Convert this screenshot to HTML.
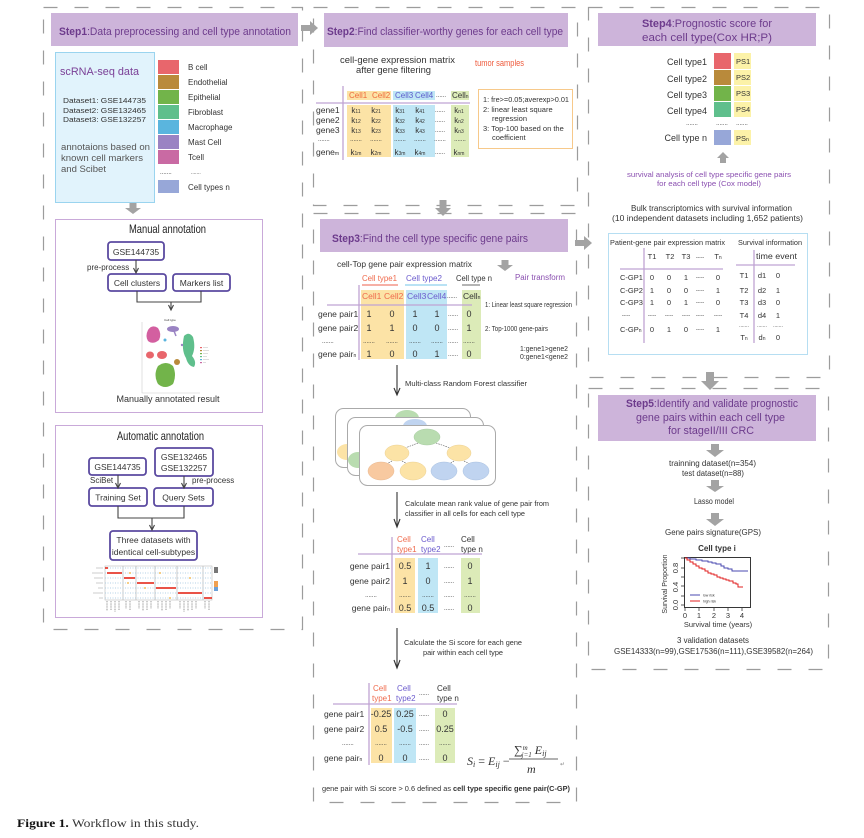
<!DOCTYPE html>
<html><head><meta charset="utf-8"><style>
html,body{margin:0;padding:0;background:#fff;}
svg{display:block;}
text{font-family:"Liberation Sans",Arial,sans-serif;fill:#333;}
</style></head><body>
<svg width="864" height="838" viewBox="0 0 864 838" xmlns="http://www.w3.org/2000/svg">
<g fill="none" stroke="#9c9c9c" stroke-width="1.2" stroke-dasharray="14 17">
<rect x="43.5" y="7.5" width="259" height="622"/>
<rect x="313.5" y="7.5" width="264" height="198"/>
<rect x="313.5" y="213.5" width="263" height="589"/>
<rect x="588.5" y="7.5" width="241" height="370"/>
<rect x="588.5" y="388.5" width="240" height="281"/>
</g>
<g fill="#cdb4da">
<rect x="51" y="13" width="247" height="33"/>
<rect x="324" y="13" width="244" height="34"/>
<rect x="320" y="219" width="248" height="33"/>
<rect x="598" y="13" width="218" height="33"/>
<rect x="598" y="395" width="218" height="46"/>
</g>
<g font-size="11" style="fill:#6d3b8c">
<text x="59" y="35" textLength="232" lengthAdjust="spacingAndGlyphs" style="fill:#6d3b8c"><tspan font-weight="bold" style="fill:#6d3b8c">Step1</tspan>:Data preprocessing and cell type annotation</text>
<text x="327" y="35" textLength="236" lengthAdjust="spacingAndGlyphs" style="fill:#6d3b8c"><tspan font-weight="bold" style="fill:#6d3b8c">Step2</tspan>:Find classifier-worthy genes for each cell type</text>
<text x="332" y="242" textLength="196" lengthAdjust="spacingAndGlyphs" style="fill:#6d3b8c"><tspan font-weight="bold" style="fill:#6d3b8c">Step3</tspan>:Find the cell type specific gene pairs</text>
<text x="642" y="27" textLength="130" lengthAdjust="spacingAndGlyphs" style="fill:#6d3b8c"><tspan font-weight="bold" style="fill:#6d3b8c">Step4</tspan>:Prognostic score for</text>
<text x="642" y="41" textLength="130" lengthAdjust="spacingAndGlyphs" style="fill:#6d3b8c">each cell type(Cox HR;P)</text>
<text x="626" y="407" textLength="172" lengthAdjust="spacingAndGlyphs" style="fill:#6d3b8c"><tspan font-weight="bold" style="fill:#6d3b8c">Step5</tspan>:Identify and validate prognostic</text>
<text x="636" y="421" textLength="149" lengthAdjust="spacingAndGlyphs" style="fill:#6d3b8c">gene pairs within each cell type</text>
<text x="668" y="434" textLength="86" lengthAdjust="spacingAndGlyphs" style="fill:#6d3b8c">for stageII/III CRC</text>
</g>
<g fill="#a3a3a3">
<polygon points="129.5,202 136.5,202 136.5,208 141,208 133,214 125,208 129.5,208"/>
<polygon points="301,25 310,25 310,21 318,28 310,35 310,31 301,31"/>
<polygon points="439.5,200 446.5,200 446.5,208 451,208 443,216 435,208 439.5,208"/>
<polygon points="575,240 584,240 584,236 592,243 584,250 584,246 575,246"/>
<polygon points="706,372 714,372 714,381 719,381 710,390 701,381 706,381"/>
<polygon points="711,444 719,444 719,450 724,450 715,457 706,450 711,450"/>
<polygon points="711,480 719,480 719,486 724,486 715,492 706,486 711,486"/>
<polygon points="711,513 719,513 719,519 724,519 715,526 706,519 711,519"/>
<polygon points="723,152 729,158 726,158 726,163 720,163 720,158 717,158"/>
<polygon points="501.5,260 508.5,260 508.5,265 513,265 505,271 497,265 501.5,265"/>
</g>
<rect x="55.5" y="52.5" width="99" height="150" fill="#e1f3fc" stroke="#9ad4ef"/>
<text x="60" y="75" font-size="11" textLength="79" lengthAdjust="spacingAndGlyphs" style="fill:#7a3f96">scRNA-seq  data</text>
<g font-size="7.5">
<text x="63" y="103" textLength="83" lengthAdjust="spacingAndGlyphs">Dataset1: GSE144735</text>
<text x="63" y="113" textLength="83" lengthAdjust="spacingAndGlyphs">Dataset2: GSE132465</text>
<text x="63" y="122" textLength="83" lengthAdjust="spacingAndGlyphs">Dataset3: GSE132257</text>
</g>
<g font-size="9" style="fill:#555">
<text x="61" y="150" textLength="89" lengthAdjust="spacingAndGlyphs" style="fill:#555">annotaions based on</text>
<text x="61" y="161" textLength="82" lengthAdjust="spacingAndGlyphs" style="fill:#555">known cell markers</text>
<text x="61" y="172" textLength="45" lengthAdjust="spacingAndGlyphs" style="fill:#555">and Scibet</text>
</g>
<rect x="158" y="60" width="21" height="14" fill="#e8666c"/>
<rect x="158" y="75" width="21" height="14" fill="#b98a3b"/>
<rect x="158" y="90" width="21" height="14" fill="#72b44a"/>
<rect x="158" y="105" width="21" height="14" fill="#5fbf8c"/>
<rect x="158" y="120" width="21" height="14" fill="#5ab5de"/>
<rect x="158" y="135" width="21" height="14" fill="#9a83c3"/>
<rect x="158" y="150" width="21" height="14" fill="#c96aa3"/>
<rect x="158" y="180" width="21" height="13" fill="#97a7d8"/>
<g font-size="8">
<text x="188" y="70">B cell</text>
<text x="188" y="85">Endothelial</text>
<text x="188" y="100">Epithelial</text>
<text x="188" y="115">Fibroblast</text>
<text x="188" y="130">Macrophage</text>
<text x="188" y="145">Mast Cell</text>
<text x="188" y="160">Tcell</text>
<text x="160" y="174" font-size="6">.......</text>
<text x="191" y="174" font-size="5">.......</text>
<text x="188" y="190">Cell types n</text>
</g>
<rect x="55.5" y="219.5" width="207" height="193" fill="#fff" stroke="#c9a9d9"/>
<rect x="55.5" y="425.5" width="207" height="192" fill="#fff" stroke="#c9a9d9"/>
<text x="167.5" y="233" font-size="12" text-anchor="middle" textLength="77" lengthAdjust="spacingAndGlyphs" style="fill:#222">Manual annotation</text>
<text x="160.5" y="440" font-size="12" text-anchor="middle" textLength="87" lengthAdjust="spacingAndGlyphs" style="fill:#222">Automatic annotation</text>
<g fill="#fff" stroke="#5b4aa0" stroke-width="1.8">
<rect x="108" y="242" width="56" height="18" rx="3"/>
<rect x="108" y="274" width="58" height="17" rx="3"/>
<rect x="173" y="274" width="57" height="17" rx="3"/>
<rect x="89" y="458" width="57" height="17" rx="3"/>
<rect x="155" y="448" width="58" height="28" rx="3"/>
<rect x="89" y="488" width="58" height="18" rx="3"/>
<rect x="154" y="488" width="59" height="18" rx="3"/>
<rect x="110" y="531" width="87" height="29" rx="3"/>
</g>
<g font-size="8.5" text-anchor="middle">
<text x="136" y="255">GSE144735</text>
<text x="137" y="286">Cell clusters</text>
<text x="201.5" y="286">Markers list</text>
<text x="117.5" y="470">GSE144735</text>
<text x="184" y="460">GSE132465</text>
<text x="184" y="471">GSE132257</text>
<text x="118" y="500.5">Training Set</text>
<text x="183.5" y="500.5">Query Sets</text>
<text x="153.5" y="543">Three datasets with</text>
<text x="153.5" y="555">identical cell-subtypes</text>
</g>
<g font-size="8">
<text x="87" y="270">pre-process</text>
<text x="90" y="483">SciBet</text>
<text x="192" y="483">pre-process</text>
</g>
<g fill="none" stroke="#444" stroke-width="1.1">
<path d="M136 260V272"/><path d="M133.5 268L136 273L138.5 268"/>
<path d="M137 291V302H201V291"/><path d="M171 302V309"/><path d="M168.5 305L171 310L173.5 305"/>
<path d="M118 475V487"/><path d="M115.5 483L118 488L120.5 483"/>
<path d="M184 476V487"/><path d="M181.5 483L184 488L186.5 483"/>
<path d="M118 506V518H184V506"/><path d="M152 518V529"/><path d="M149.5 525L152 530L154.5 525"/>
</g>
<!-- UMAP -->
<g>
<path d="M142 322V393H200" fill="none" stroke="#ccc" stroke-width="0.6"/>
<text x="170" y="321" font-size="3" text-anchor="middle">Cell type</text>
<path d="M148 330Q152 324 158 328Q162 334 159 340Q153 345 148 341Q145 336 148 330Z" fill="#d35fa0"/>
<ellipse cx="173" cy="329" rx="6" ry="3" fill="#9a83c3"/>
<path d="M174 331L176 336" stroke="#9a83c3" stroke-width="1.5"/>
<path d="M184 336Q189 331 193 337Q196 348 192 356Q197 362 194 367Q188 366 186 358Q181 350 184 336Z" fill="#5fbf8c"/>
<ellipse cx="150" cy="355" rx="4" ry="3.5" fill="#e8666c"/>
<ellipse cx="162" cy="355" rx="5" ry="4" fill="#e8666c"/>
<ellipse cx="177" cy="362" rx="3" ry="3" fill="#b98a3b"/>
<circle cx="165" cy="340" r="1.5" fill="#5ab5de"/>
<circle cx="182" cy="345" r="1.2" fill="#9a83c3"/>
<path d="M158 366Q166 360 173 366Q177 375 173 384Q165 390 158 384Q153 375 158 366Z" fill="#72b44a"/>
<rect x="200" y="347" width="2" height="1.2" fill="#e8666c"/><rect x="200" y="350" width="2" height="1.2" fill="#b98a3b"/>
<rect x="200" y="353" width="2" height="1.2" fill="#72b44a"/><rect x="200" y="356" width="2" height="1.2" fill="#5fbf8c"/>
<rect x="200" y="359" width="2" height="1.2" fill="#5ab5de"/><rect x="200" y="362" width="2" height="1.2" fill="#c96aa3"/>
<path d="M203 347.5H208M203 350.5H209M203 353.5H208M203 356.5H207M203 359.5H209M203 362.5H206" stroke="#bbb" stroke-width="0.6"/>
</g>
<text x="168" y="402" font-size="9" text-anchor="middle">Manually annotated result</text>
<!-- dot plot -->
<g>
<rect x="105" y="566" width="107" height="34" fill="none" stroke="#bbb" stroke-width="0.6"/>
<g stroke="#aaa" stroke-width="0.6"><path d="M123 566V600M136 566V600M155 566V600M177 566V600M203 566V600"/></g>
<g stroke="#9cc3e0" stroke-width="0.8" stroke-dasharray="1 1.5">
<path d="M105 568H212M105 573H212M105 578H212M105 583H212M105 588H212M105 593H212M105 598H212"/>
</g>
<g stroke="#e63b2e" stroke-width="1.8">
<path d="M105 568H108M107 573H122M124 578H135M137 583H154M156 588H176M178 593H202M204 598H212"/>
</g>
<g fill="#f5c060"><circle cx="130" cy="573" r="1"/><circle cx="160" cy="573" r="1"/><circle cx="145" cy="588" r="1"/><circle cx="190" cy="578" r="1"/><circle cx="128" cy="583" r="1"/><circle cx="170" cy="598" r="1"/></g>
<g stroke="#999" stroke-width="0.6"><path d="M96 568H103M92 573H103M94 578H103M96 583H103M98 588H103M93 593H103M99 598H103"/></g>
<g stroke="#999" stroke-width="1" stroke-dasharray="1 0.6"><path d="M107 601V611M111 601V610M115 601V612M119 601V610M126 601V609M130 601V610M139 601V609M143 601V611M147 601V610M151 601V609M158 601V609M162 601V611M166 601V610M170 601V609M180 601V609M184 601V612M188 601V611M192 601V610M196 601V609M205 601V609M209 601V610"/></g>
<rect x="214" y="567" width="4" height="6" fill="#777"/><rect x="214" y="581" width="4" height="10" fill="#f0a050"/><rect x="214" y="587" width="4" height="4" fill="#6aa0d8"/>
</g>

<!-- Step2 content -->
<text x="340" y="63" font-size="9" textLength="115" lengthAdjust="spacingAndGlyphs">cell-gene expression matrix</text>
<text x="356" y="73" font-size="9" textLength="75" lengthAdjust="spacingAndGlyphs">after gene filtering</text>
<text x="475" y="66" font-size="9" textLength="49" lengthAdjust="spacingAndGlyphs" style="fill:#ee5a3c">tumor samples</text>
<rect x="347" y="91" width="44" height="9" fill="#fce3a6"/>
<rect x="393" y="91" width="42" height="9" fill="#bfe6f5"/>
<rect x="451" y="91" width="18" height="9" fill="#dcebb8"/>
<rect x="347" y="105" width="44" height="52" fill="#fce3a6"/>
<rect x="393" y="105" width="42" height="52" fill="#bfe6f5"/>
<rect x="451" y="105" width="18" height="52" fill="#dcebb8"/>
<path d="M343 86V160M316 103H470" stroke="#bfa3d3" stroke-width="1.3" fill="none"/>
<g font-size="8">
<text x="349" y="98" style="fill:#ee6a3c">Cell1</text><text x="372" y="98" style="fill:#ee6a3c">Cell2</text>
<text x="395" y="98" style="fill:#5a5acb">Cell3</text><text x="415" y="98" style="fill:#5a5acb">Cell4</text>
<text x="436" y="97" font-size="6">......</text>
<text x="452" y="98">Cell<tspan font-size="5">n</tspan></text>
</g>
<g font-size="8.5">
<text x="316" y="113">gene1</text><text x="316" y="123">gene2</text><text x="316" y="133">gene3</text>
<text x="318" y="141" font-size="6">.......</text><text x="316" y="155">gene<tspan font-size="5">m</tspan></text>
</g>
<g font-size="8" text-anchor="middle">
<text x="356" y="113">k<tspan font-size="5">11</tspan></text><text x="376" y="113">k<tspan font-size="5">21</tspan></text><text x="400" y="113">k<tspan font-size="5">31</tspan></text><text x="420" y="113">k<tspan font-size="5">41</tspan></text><text x="459" y="113">k<tspan font-size="5">n1</tspan></text>
<text x="356" y="123">k<tspan font-size="5">12</tspan></text><text x="376" y="123">k<tspan font-size="5">22</tspan></text><text x="400" y="123">k<tspan font-size="5">32</tspan></text><text x="420" y="123">k<tspan font-size="5">42</tspan></text><text x="459" y="123">k<tspan font-size="5">n2</tspan></text>
<text x="356" y="133">k<tspan font-size="5">13</tspan></text><text x="376" y="133">k<tspan font-size="5">23</tspan></text><text x="400" y="133">k<tspan font-size="5">33</tspan></text><text x="420" y="133">k<tspan font-size="5">43</tspan></text><text x="459" y="133">k<tspan font-size="5">n3</tspan></text>
<text x="356" y="155">k<tspan font-size="5">1m</tspan></text><text x="376" y="155">k<tspan font-size="5">2m</tspan></text><text x="400" y="155">k<tspan font-size="5">3m</tspan></text><text x="420" y="155">k<tspan font-size="5">4m</tspan></text><text x="459" y="155">k<tspan font-size="5">nm</tspan></text>
</g>
<g font-size="6" text-anchor="middle">
<text x="356" y="141">.......</text><text x="376" y="141">.......</text><text x="400" y="141">.......</text><text x="420" y="141">.......</text><text x="440" y="141">.......</text><text x="460" y="141">.......</text>
<text x="440" y="112">......</text><text x="440" y="122">......</text><text x="440" y="132">......</text><text x="440" y="154">......</text>
</g>
<rect x="478.5" y="89.5" width="94" height="59" fill="#fff" stroke="#f7c98a"/>
<g font-size="7.5">
<text x="483" y="102" textLength="86" lengthAdjust="spacingAndGlyphs">1: fre&gt;=0.05;averexp&gt;0.01</text>
<text x="483" y="112">2: linear least square</text>
<text x="492" y="121">regression</text>
<text x="483" y="131">3: Top-100 based on the</text>
<text x="492" y="140">coefficient</text>
</g>

<!-- Step3 content -->
<text x="337" y="267" font-size="8.5" textLength="135" lengthAdjust="spacingAndGlyphs">cell-Top gene pair expression matrix</text>
<text x="515" y="280" font-size="8" textLength="50" lengthAdjust="spacingAndGlyphs" style="fill:#8a4fb0">Pair transform</text>
<text x="362" y="281" font-size="8.5" textLength="35" lengthAdjust="spacingAndGlyphs" style="fill:#ef6a4c">Cell type1</text>
<text x="406" y="281" font-size="8.5" textLength="36" lengthAdjust="spacingAndGlyphs" style="fill:#6a5acd">Cell type2</text>
<text x="456" y="281" font-size="8.5" textLength="36" lengthAdjust="spacingAndGlyphs">Cell type n</text>
<path d="M362 285H398" stroke="#f08070" stroke-width="1.2"/>
<path d="M405 285H447" stroke="#8fd0ee" stroke-width="1.2"/>
<path d="M462 285H480" stroke="#888" stroke-width="1.2"/>
<rect x="361" y="290" width="43" height="69" fill="#fce3a6"/>
<rect x="406" y="290" width="41" height="69" fill="#bfe6f5"/>
<rect x="462" y="290" width="19" height="69" fill="#dcebb8"/>
<path d="M359 285V360M327 305H472" stroke="#bfa3d3" stroke-width="1.3" fill="none"/>
<g font-size="8.5">
<text x="362" y="299" style="fill:#ef6a4c">Cell1</text><text x="384" y="299" style="fill:#ef6a4c">Cell2</text>
<text x="407" y="299" style="fill:#6a5acd">Cell3</text><text x="427" y="299" style="fill:#6a5acd">Cell4</text>
<text x="447" y="298" font-size="6">......</text>
<text x="463" y="299">Cell<tspan font-size="5">n</tspan></text>
<text x="318" y="317">gene pair1</text><text x="318" y="331">gene pair2</text>
<text x="322" y="343" font-size="6">.......</text><text x="318" y="357">gene pair<tspan font-size="5">n</tspan></text>
</g>
<g font-size="9" text-anchor="middle">
<text x="369" y="317">1</text><text x="392" y="317">0</text><text x="415" y="317">1</text><text x="437" y="317">1</text><text x="469" y="317">0</text>
<text x="369" y="331">1</text><text x="392" y="331">1</text><text x="415" y="331">0</text><text x="437" y="331">0</text><text x="469" y="331">1</text>
<text x="369" y="357">1</text><text x="392" y="357">0</text><text x="415" y="357">0</text><text x="437" y="357">1</text><text x="469" y="357">0</text>
</g>
<g font-size="6" text-anchor="middle">
<text x="453" y="316">......</text><text x="453" y="330">......</text><text x="453" y="356">......</text>
<text x="369" y="343">.......</text><text x="392" y="343">.......</text><text x="415" y="343">.......</text><text x="437" y="343">.......</text><text x="453" y="343">......</text><text x="469" y="343">.......</text>
</g>
<g font-size="7">
<text x="485" y="307" textLength="87" lengthAdjust="spacingAndGlyphs">1: Linear least square regression</text>
<text x="485" y="331" textLength="63" lengthAdjust="spacingAndGlyphs">2: Top-1000 gene-pairs</text>
<text x="520" y="351" textLength="48" lengthAdjust="spacingAndGlyphs">1:gene1&gt;gene2</text>
<text x="520" y="359" textLength="48" lengthAdjust="spacingAndGlyphs">0:gene1&lt;gene2</text>
</g>
<g fill="none" stroke="#333" stroke-width="1.1">
<path d="M397 365V394"/><path d="M394 388L397 395L400 388"/>
<path d="M397 492V526"/><path d="M394 519L397 527L400 519"/>
<path d="M397 628V667"/><path d="M394 660L397 668L400 660"/>
</g>
<text x="405" y="386" font-size="7.5" textLength="122" lengthAdjust="spacingAndGlyphs">Multi-class Random Forest classifier</text>
<!-- tree cards -->
<rect x="335.5" y="408.5" width="135" height="59" rx="8" fill="#fff" stroke="#aaa"/>
<ellipse cx="407" cy="418" rx="12" ry="8" fill="#b9dcb0"/>
<ellipse cx="347" cy="452" rx="10" ry="8" fill="#fce3a6"/>
<rect x="347.5" y="417.5" width="136" height="58" rx="8" fill="#fff" stroke="#aaa"/>
<ellipse cx="415" cy="426" rx="12" ry="7" fill="#c0d4f0"/>
<ellipse cx="358" cy="460" rx="10" ry="8" fill="#b9dcb0"/>
<rect x="359.5" y="425.5" width="136" height="60" rx="8" fill="#fff" stroke="#aaa"/>
<g stroke="#555" stroke-width="0.6" stroke-dasharray="1.5 1">
<path d="M418 443L400 450M436 443L456 450M392 461L383 466M402 461L411 466M454 461L446 466M464 461L474 466"/>
</g>
<ellipse cx="427" cy="437" rx="13" ry="8" fill="#b9dcb0" stroke="#a6cca0" stroke-width="0.5"/>
<ellipse cx="397" cy="453" rx="12" ry="8" fill="#fce3a6" stroke="#ecd090" stroke-width="0.5"/>
<ellipse cx="459" cy="453" rx="12" ry="8" fill="#fce3a6" stroke="#ecd090" stroke-width="0.5"/>
<ellipse cx="381" cy="471" rx="13" ry="9" fill="#f8c9a0" stroke="#e8b890" stroke-width="0.5"/>
<ellipse cx="413" cy="471" rx="13" ry="9" fill="#fce3a6" stroke="#ecd090" stroke-width="0.5"/>
<ellipse cx="444" cy="471" rx="13" ry="9" fill="#c0d4f0" stroke="#a8c0e0" stroke-width="0.5"/>
<ellipse cx="476" cy="471" rx="13" ry="9" fill="#c0d4f0" stroke="#a8c0e0" stroke-width="0.5"/>
<text x="405" y="506" font-size="7.5" textLength="144" lengthAdjust="spacingAndGlyphs">Calculate mean rank value of gene pair from</text>
<text x="405" y="516" font-size="7.5" textLength="120" lengthAdjust="spacingAndGlyphs">classifier in all cells for each cell type</text>
<!-- table2 -->
<g font-size="8">
<text x="397" y="542" style="fill:#ef6a4c">Cell</text><text x="397" y="552" style="fill:#ef6a4c">type1</text>
<text x="421" y="542" style="fill:#6a5acd">Cell</text><text x="421" y="552" style="fill:#6a5acd">type2</text>
<text x="444" y="547" font-size="6">......</text>
<text x="461" y="542">Cell</text><text x="461" y="552">type n</text>
</g>
<rect x="395" y="558" width="20" height="55" fill="#fce3a6"/>
<rect x="418" y="558" width="20" height="55" fill="#bfe6f5"/>
<rect x="461" y="558" width="19" height="55" fill="#dcebb8"/>
<path d="M392 537V613M358 554H482" stroke="#bfa3d3" stroke-width="1.3" fill="none"/>
<g font-size="8.5" text-anchor="end">
<text x="390" y="569">gene pair1</text><text x="390" y="584">gene pair2</text><text x="390" y="611">gene pair<tspan font-size="5">n</tspan></text>
</g>
<g font-size="9" text-anchor="middle">
<text x="405" y="569">0.5</text><text x="428" y="569">1</text><text x="470" y="569">0</text>
<text x="405" y="584">1</text><text x="428" y="584">0</text><text x="470" y="584">1</text>
<text x="405" y="611">0.5</text><text x="428" y="611">0.5</text><text x="470" y="611">0</text>
</g>
<g font-size="6" text-anchor="middle">
<text x="449" y="568">......</text><text x="449" y="583">......</text><text x="449" y="610">......</text>
<text x="371" y="597">.......</text><text x="405" y="597">.......</text><text x="428" y="597">.......</text><text x="449" y="597">......</text><text x="470" y="597">.......</text>
</g>
<text x="463" y="645" font-size="7.5" text-anchor="middle" textLength="118" lengthAdjust="spacingAndGlyphs">Calculate the Si score for each gene</text>
<text x="463" y="655" font-size="7.5" text-anchor="middle" textLength="80" lengthAdjust="spacingAndGlyphs">pair within each cell type</text>
<!-- table3 -->
<g font-size="8">
<text x="373" y="691" style="fill:#ef6a4c">Cell</text><text x="372" y="701" style="fill:#ef6a4c">type1</text>
<text x="397" y="691" style="fill:#6a5acd">Cell</text><text x="396" y="701" style="fill:#6a5acd">type2</text>
<text x="419" y="695" font-size="6">......</text>
<text x="437" y="691">Cell</text><text x="437" y="701">type n</text>
</g>
<rect x="371" y="708" width="21" height="55" fill="#fce3a6"/>
<rect x="394" y="708" width="22" height="55" fill="#bfe6f5"/>
<rect x="435" y="708" width="20" height="55" fill="#dcebb8"/>
<path d="M369 683V765M333 704H457" stroke="#bfa3d3" stroke-width="1.3" fill="none"/>
<g font-size="8.5">
<text x="324" y="717">gene pair1</text><text x="324" y="732">gene pair2</text>
<text x="342" y="745" font-size="6">.......</text><text x="324" y="761">gene pair<tspan font-size="5">n</tspan></text>
</g>
<g font-size="9" text-anchor="middle">
<text x="381" y="717">-0.25</text><text x="405" y="717">0.25</text><text x="445" y="717">0</text>
<text x="381" y="732">0.5</text><text x="405" y="732">-0.5</text><text x="445" y="732">0.25</text>
<text x="381" y="761">0</text><text x="405" y="761">0</text><text x="445" y="761">0</text>
</g>
<g font-size="6" text-anchor="middle">
<text x="424" y="716">......</text><text x="424" y="731">......</text><text x="424" y="760">......</text>
<text x="381" y="745">.......</text><text x="405" y="745">.......</text><text x="424" y="745">......</text><text x="445" y="745">.......</text>
</g>
<!-- formula -->
<g font-size="12">
<text x="467" y="765" style="font-family:'Liberation Serif',serif;font-style:italic">S<tspan font-size="8" dy="2">i</tspan><tspan dy="-2" font-style="normal"> = </tspan>E<tspan font-size="8" dy="2">ij</tspan><tspan dy="-2" font-style="normal"> − </tspan></text>
<text x="514" y="754" style="font-family:'Liberation Serif',serif;font-style:italic"><tspan font-style="normal">∑</tspan><tspan font-size="7" dy="-4">m</tspan><tspan font-size="7" dx="-6" dy="7">j=1</tspan><tspan dy="-3"> E</tspan><tspan font-size="8" dy="2">ij</tspan></text>
<text x="527" y="773" style="font-family:'Liberation Serif',serif;font-style:italic">m</text>
<text x="560" y="766" font-size="6" style="fill:#888">↵</text>
</g>
<path d="M509 759H558" stroke="#333" stroke-width="0.8"/>
<text x="322" y="791" font-size="7" textLength="248" lengthAdjust="spacingAndGlyphs">gene pair with Si score &gt; 0.6 defined as <tspan font-weight="bold">cell type specific gene pair(C-GP)</tspan></text>

<!-- Step4 content -->
<g font-size="9" text-anchor="end">
<text x="707" y="65">Cell type1</text><text x="707" y="82">Cell type2</text><text x="707" y="98">Cell type3</text><text x="707" y="114">Cell type4</text><text x="707" y="141">Cell type n</text>
</g>
<g font-size="6" text-anchor="middle"><text x="692" y="125">.......</text><text x="722" y="125">.......</text><text x="742" y="125">.......</text></g>
<rect x="714" y="53" width="17" height="16" fill="#e8666c"/>
<rect x="714" y="70" width="17" height="15" fill="#b98a3b"/>
<rect x="714" y="86" width="17" height="15" fill="#72b44a"/>
<rect x="714" y="102" width="17" height="15" fill="#5fbf8c"/>
<rect x="714" y="130" width="17" height="15" fill="#97a7d8"/>
<g fill="#fcf2a8"><rect x="734" y="53" width="17" height="16"/><rect x="734" y="70" width="17" height="15"/><rect x="734" y="86" width="17" height="15"/><rect x="734" y="102" width="17" height="15"/><rect x="734" y="130" width="17" height="15"/></g>
<g font-size="7.5"><text x="736" y="64">PS1</text><text x="736" y="80">PS2</text><text x="736" y="96">PS3</text><text x="736" y="112">PS4</text><text x="736" y="141">PS<tspan font-size="5">n</tspan></text></g>
<text x="627" y="177" font-size="7.5" textLength="164" lengthAdjust="spacingAndGlyphs" style="fill:#8a4fb0">survival analysis of cell type specific gene pairs</text>
<text x="657" y="186" font-size="7.5" textLength="104" lengthAdjust="spacingAndGlyphs" style="fill:#8a4fb0">for each cell type (Cox model)</text>
<text x="631" y="211" font-size="8" textLength="161" lengthAdjust="spacingAndGlyphs">Bulk transcriptomics with survival information</text>
<text x="612" y="221" font-size="8" textLength="191" lengthAdjust="spacingAndGlyphs">(10 independent datasets including 1,652 patients)</text>
<rect x="608.5" y="233.5" width="199" height="121" fill="#fff" stroke="#b6def2"/>
<text x="610" y="245" font-size="7.5" textLength="115" lengthAdjust="spacingAndGlyphs">Patient-gene pair expression matrix</text>
<text x="738" y="245" font-size="7.5" textLength="64" lengthAdjust="spacingAndGlyphs">Survival information</text>
<path d="M644 248V343M620 269H723M754 250V343M736 265H795" stroke="#bfa3d3" stroke-width="1.3" fill="none"/>
<g font-size="7.5" text-anchor="middle">
<text x="652" y="259">T1</text><text x="670" y="259">T2</text><text x="686" y="259">T3</text><text x="700" y="259" font-size="5">-----</text><text x="718" y="259">T<tspan font-size="5">n</tspan></text>
<text x="652" y="280">0</text><text x="669" y="280">0</text><text x="686" y="280">1</text><text x="700" y="279" font-size="5">-----</text><text x="718" y="280">0</text>
<text x="652" y="293">1</text><text x="669" y="293">0</text><text x="686" y="293">0</text><text x="700" y="292" font-size="5">-----</text><text x="718" y="293">1</text>
<text x="652" y="305">1</text><text x="669" y="305">0</text><text x="686" y="305">1</text><text x="700" y="304" font-size="5">-----</text><text x="718" y="305">0</text>
<text x="626" y="317" font-size="5">-----</text><text x="652" y="317" font-size="5">-----</text><text x="669" y="317" font-size="5">-----</text><text x="686" y="317" font-size="5">-----</text><text x="700" y="317" font-size="5">-----</text><text x="718" y="317" font-size="5">-----</text>
<text x="652" y="332">0</text><text x="669" y="332">1</text><text x="686" y="332">0</text><text x="700" y="331" font-size="5">-----</text><text x="718" y="332">1</text>
<text x="744" y="278">T1</text><text x="762" y="278">d1</text><text x="778" y="278">0</text>
<text x="744" y="293">T2</text><text x="762" y="293">d2</text><text x="778" y="293">1</text>
<text x="744" y="305">T3</text><text x="762" y="305">d3</text><text x="778" y="305">0</text>
<text x="744" y="318">T4</text><text x="762" y="318">d4</text><text x="778" y="318">1</text>
<text x="744" y="327" font-size="5">.......</text><text x="762" y="327" font-size="5">.......</text><text x="778" y="327" font-size="5">.......</text>
<text x="744" y="340">T<tspan font-size="5">n</tspan></text><text x="762" y="340">d<tspan font-size="5">n</tspan></text><text x="778" y="340">0</text>
</g>
<g font-size="7.5">
<text x="620" y="280">C-GP1</text><text x="620" y="293">C-GP2</text><text x="620" y="305">C-GP3</text><text x="620" y="332">C-GP<tspan font-size="5">n</tspan></text>
</g>
<text x="756" y="259" font-size="8.5" textLength="41" lengthAdjust="spacingAndGlyphs">time event</text>

<!-- Step5 content -->
<g font-size="8" text-anchor="middle">
<text x="712.5" y="466" textLength="87" lengthAdjust="spacingAndGlyphs">trainning dataset(n=354)</text>
<text x="713" y="476" textLength="62" lengthAdjust="spacingAndGlyphs">test dataset(n=88)</text>
<text x="714" y="504" textLength="40" lengthAdjust="spacingAndGlyphs">Lasso model</text>
<text x="713" y="535" textLength="96" lengthAdjust="spacingAndGlyphs">Gene pairs signature(GPS)</text>
<text x="717" y="551" font-weight="bold">Cell type i</text>
<text x="713" y="643" textLength="72" lengthAdjust="spacingAndGlyphs">3 validation datasets</text>
<text x="713.5" y="654" textLength="199" lengthAdjust="spacingAndGlyphs">GSE14333(n=99),GSE17536(n=111),GSE39582(n=264)</text>
</g>
<!-- KM plot -->
<rect x="684.5" y="557.5" width="66" height="50" fill="#fff" stroke="#222" stroke-width="0.9"/>
<g stroke="#222" stroke-width="0.7">
<path d="M684 558H681M684 568H681M684 577H681M684 586H681M684 596H681M684 605H681"/>
<path d="M685 608V611M699 608V611M714 608V611M728 608V611M742 608V611"/>
</g>
<g font-size="7.5" text-anchor="middle">
<text transform="translate(678,605) rotate(-90)">0.0</text>
<text transform="translate(678,587) rotate(-90)">0.4</text>
<text transform="translate(678,568) rotate(-90)">0.8</text>
<text transform="translate(667,584) rotate(-90)" font-size="7">Survival Proportion</text>
<text x="685" y="618">0</text><text x="699" y="618">1</text><text x="714" y="618">2</text><text x="728" y="618">3</text><text x="742" y="618">4</text>
<text x="718" y="627" font-size="7.5">Survival time (years)</text>
</g>
<path d="M685 558H690V559H696V560H702V561H708V562H712V563H716V564H721V566H724V568H728V569H732V571H748" fill="none" stroke="#4a4ab0" stroke-width="1"/>
<path d="M685 558H687V560H690V562H693V564H696V566H699V568H702V569H705V571H708V573H711V574H714V575H717V577H720V578H723V579H726V580H729V581H733V583H736V584H738V587H743" fill="none" stroke="#e02020" stroke-width="1"/>
<path d="M690 595H700" stroke="#4a4ab0" stroke-width="1"/><path d="M690 601H700" stroke="#e02020" stroke-width="1"/>
<text x="703" y="596.5" font-size="3.5">low risk</text><text x="703" y="602.5" font-size="3.5">high risk</text>

<!-- caption -->
<text x="17" y="827" font-size="12" textLength="182" lengthAdjust="spacingAndGlyphs" style="font-family:'Liberation Serif',serif;fill:#333"><tspan font-weight="bold" style="fill:#111">Figure 1.</tspan> Workflow in this study.</text>
</svg>
</body></html>
